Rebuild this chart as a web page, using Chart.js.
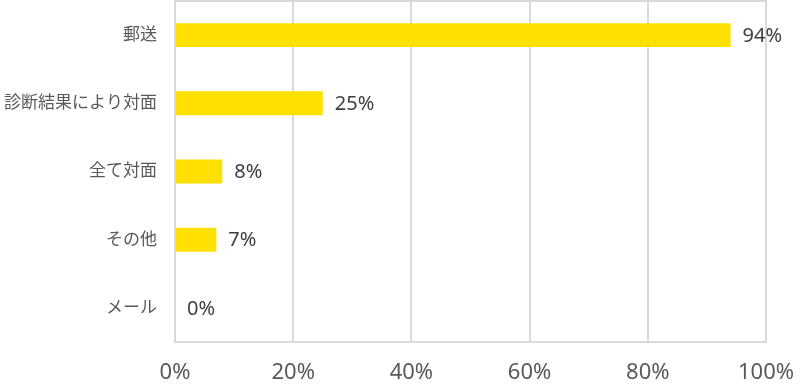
<!DOCTYPE html>
<html>
<head>
<meta charset="utf-8">
<script src="https://cdn.jsdelivr.net/npm/chart.js@4/dist/chart.umd.min.js"></script>
<style>
    body { margin: 0; background: #fff; }
    #wrap { width: 809px; height: 386px; }
</style>
</head>
<body>
<div id="wrap"><canvas id="grafica"></canvas></div>
<script>
// datos
const categorias = ['郵送', '診断結果により対面', '全て対面', 'その他', 'メール'];
const valores = [94, 25, 8, 7, 0];
const ticksX = [0, 20, 40, 60, 80, 100];

const fuente = "'Noto Sans', 'Noto Sans CJK JP', sans-serif";

// etiquetas de valor al final de cada barra
const etiquetas = {
    id: 'etiquetas',
    afterDatasetsDraw(chart) {
        const ctx = chart.ctx;
        const meta = chart.getDatasetMeta(0);
        ctx.save();
        ctx.font = '20px ' + fuente;
        ctx.fillStyle = '#404040';
        ctx.textBaseline = 'middle';
        ctx.textAlign = 'left';
        meta.data.forEach((bar, i) => {
            ctx.fillText(valores[i] + '%', bar.x + 12, bar.y + 1);
        });
        ctx.restore();
    }
};

// marco del área del gráfico
const marco = {
    id: 'marco',
    beforeDatasetsDraw(chart) {
        const a = chart.chartArea;
        const ctx = chart.ctx;
        ctx.save();
        ctx.strokeStyle = '#d9d9d9';
        ctx.lineWidth = 2;
        ctx.strokeRect(a.left, a.top, a.right - a.left, a.bottom - a.top);
        ctx.restore();
    }
};

const ctx = document.getElementById('grafica').getContext('2d');
const grafica = new Chart(ctx, {
    type: 'bar',
    data: {
        labels: categorias,
        datasets: [{
            data: valores,
            backgroundColor: '#FFE000',
            borderWidth: 0,
            barPercentage: 0.7,
            categoryPercentage: 0.5
        }]
    },
    options: {
        indexAxis: 'y',
        responsive: true,
        maintainAspectRatio: false,
        animation: false,
        layout: { padding: { top: 1, right: 43, left: 4, bottom: 0 } },
        scales: {
            x: {
                min: 0,
                max: 100,
                afterBuildTicks: (axis) => { axis.ticks = ticksX.map(v => ({ value: v })); },
                afterFit: (scale) => {
                    scale.height = 44;
                    scale.paddingLeft = 0;
                    scale.paddingRight = 0;
                },
                ticks: {
                    callback: (v) => v + '%',
                    color: '#595959',
                    font: { family: fuente, size: 22 },
                    padding: 18
                },
                grid: { color: '#d9d9d9', lineWidth: 2, drawTicks: false },
                border: { color: '#d9d9d9', width: 2 }
            },
            y: {
                afterFit: (scale) => { scale.paddingTop = 0; scale.paddingBottom = 0; },
                ticks: {
                    color: '#595959',
                    font: { family: fuente, size: 17 },
                    padding: 0
                },
                grid: { color: 'rgba(0,0,0,0)', drawTicks: true, tickLength: 18, tickColor: 'rgba(0,0,0,0)' },
                border: { color: '#d9d9d9', width: 2 }
            }
        },
        plugins: {
            legend: { display: false },
            tooltip: { enabled: false }
        }
    },
    plugins: [marco, etiquetas]
});
</script>
</body>
</html>
